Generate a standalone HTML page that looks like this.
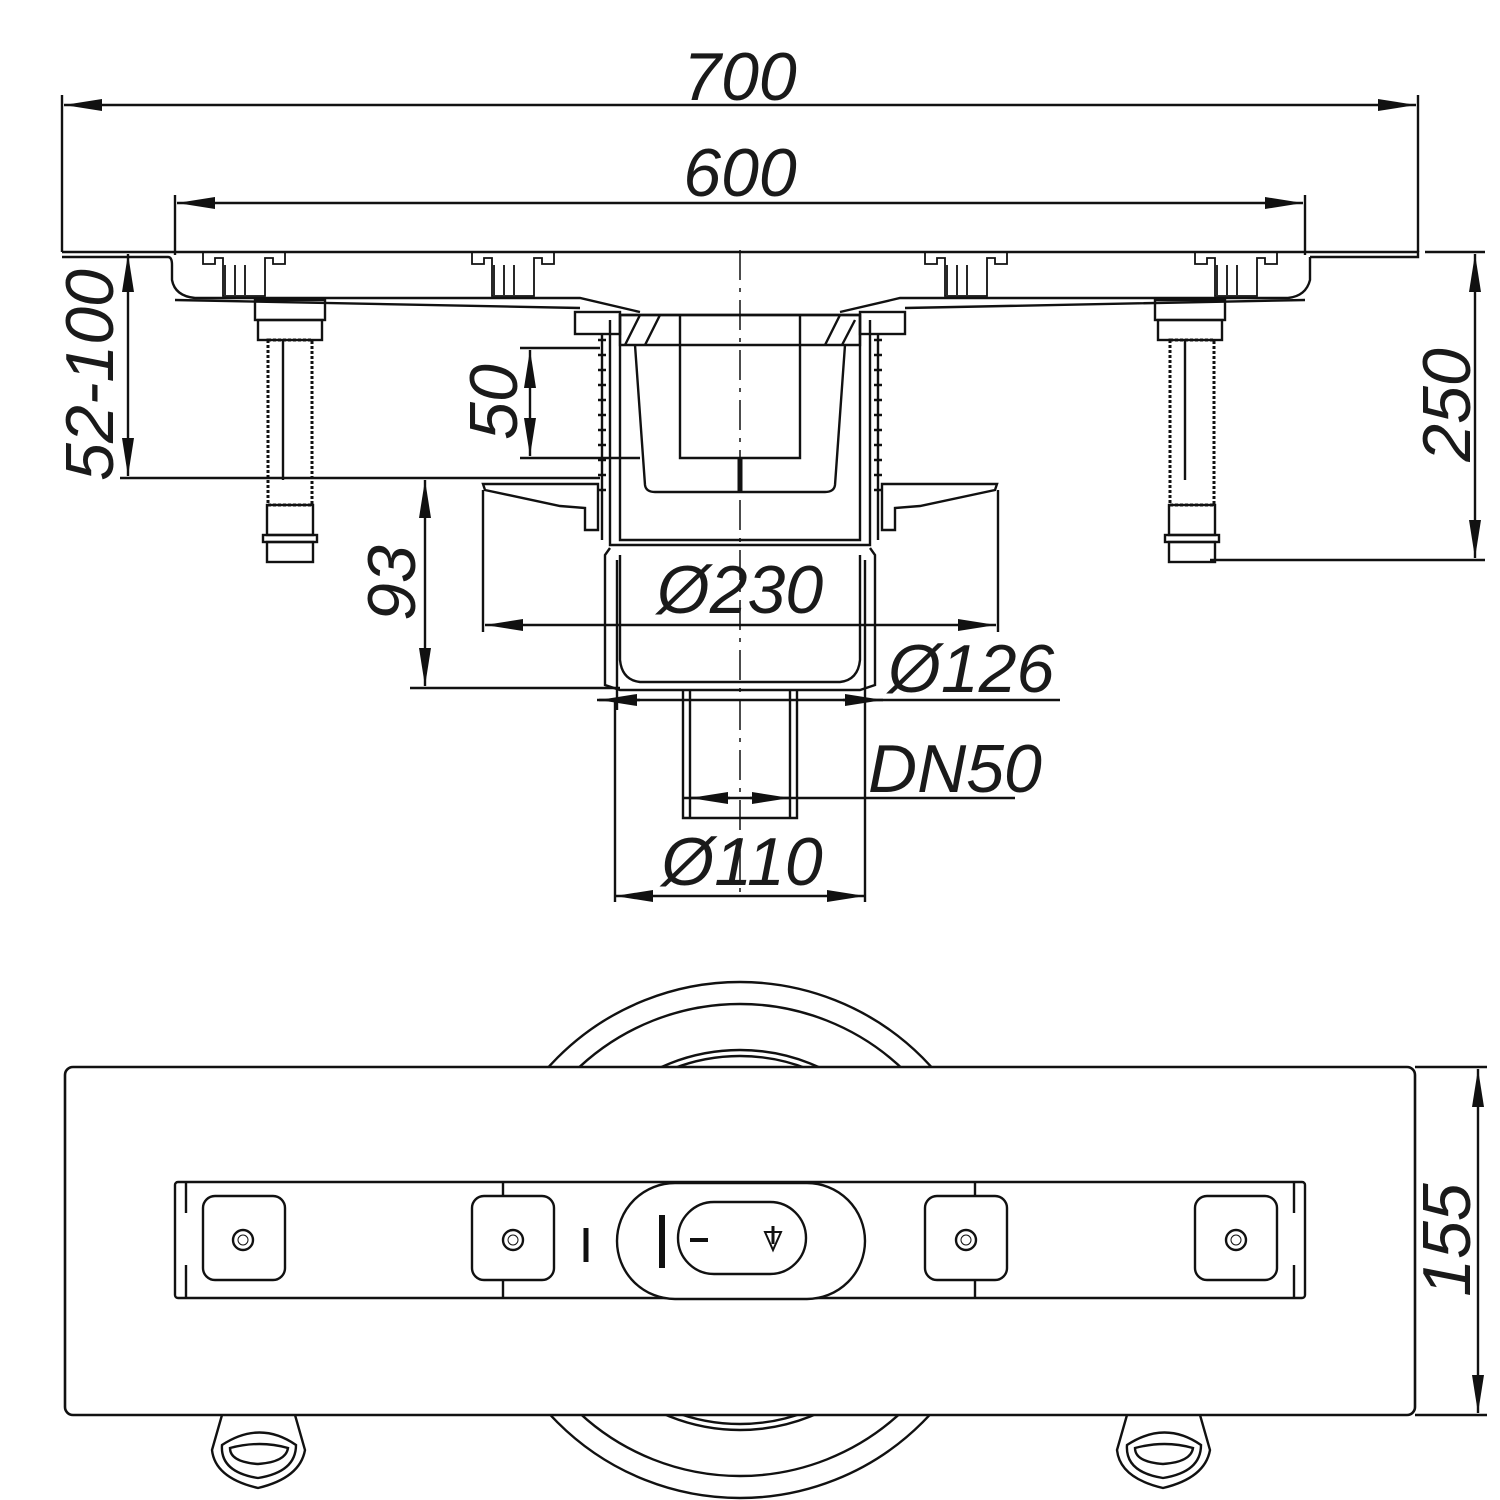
<!DOCTYPE html>
<html><head><meta charset="utf-8"><style>
html,body{margin:0;padding:0;background:#fff}
svg{display:block}
text{font-family:"Liberation Sans",sans-serif;font-style:italic;fill:#1a1a1a}
</style></head><body>
<svg width="1500" height="1500" viewBox="0 0 1500 1500" xmlns="http://www.w3.org/2000/svg">
<defs>
<marker id="a" markerUnits="userSpaceOnUse" markerWidth="40" markerHeight="14" refX="38" refY="7" orient="auto-start-reverse"><path d="M0,1 L38,7 L0,13 Z" fill="#111"/></marker>
</defs>
<g stroke="#111" stroke-width="2.4" fill="none">
<line x1="62" y1="95" x2="62" y2="252"/><line x1="1418" y1="95" x2="1418" y2="252"/>
<line x1="64" y1="105" x2="1416" y2="105" marker-start="url(#a)" marker-end="url(#a)"/>
<line x1="175" y1="195" x2="175" y2="255"/><line x1="1305" y1="195" x2="1305" y2="255"/>
<line x1="177" y1="203" x2="1303" y2="203" marker-start="url(#a)" marker-end="url(#a)"/>
<path d="M62,252 H1418 V257 H1310"/>
<path d="M62,257 H168 Q172,257 172,265 V280 Q175,296 195,298 H580 L640,312"/>
<path d="M1310,257 V280 Q1306,296 1288,298 H900 L840,312"/>
<path d="M175,300 L580,308 M905,308 L1305,300"/>
<g stroke-width="1.8">
<path d="M203,252 v12 h12 v-6 h8 v38 h42 v-38 h8 v6 h12 v-12"/>
<path d="M472,252 v12 h12 v-6 h8 v38 h42 v-38 h8 v6 h12 v-12"/>
<path d="M925,252 v12 h12 v-6 h8 v38 h42 v-38 h8 v6 h12 v-12"/>
<path d="M1195,252 v12 h12 v-6 h8 v38 h42 v-38 h8 v6 h12 v-12"/>
<path d="M225,265v30M235,265v30M245,265v30M494,265v30M504,265v30M514,265v30M947,265v30M957,265v30M967,265v30M1217,265v30M1227,265v30M1237,265v30"/>
</g>
<g>
<rect x="255" y="300" width="70" height="20"/><rect x="258" y="320" width="64" height="20"/>
<rect x="268" y="340" width="44" height="165" stroke-dasharray="3 2" stroke-width="3"/>
<line x1="283" y1="340" x2="283" y2="480"/>
<rect x="267" y="505" width="46" height="30"/><rect x="263" y="535" width="54" height="7"/><rect x="267" y="542" width="46" height="20"/>
<rect x="1155" y="300" width="70" height="20"/><rect x="1158" y="320" width="64" height="20"/>
<rect x="1170" y="340" width="44" height="165" stroke-dasharray="3 2" stroke-width="3"/>
<line x1="1185" y1="340" x2="1185" y2="480"/>
<rect x="1169" y="505" width="46" height="30"/><rect x="1165" y="535" width="54" height="7"/><rect x="1169" y="542" width="46" height="20"/>
</g>
<line x1="128" y1="254" x2="128" y2="476" marker-start="url(#a)" marker-end="url(#a)"/>
<line x1="120" y1="478" x2="600" y2="478"/>
<line x1="1425" y1="252" x2="1485" y2="252"/>
<line x1="1210" y1="560" x2="1485" y2="560"/>
<line x1="1475" y1="254" x2="1475" y2="558" marker-start="url(#a)" marker-end="url(#a)"/>
<line x1="740" y1="250" x2="740" y2="900" stroke-width="1.5" stroke-dasharray="30 8 4 8"/>
<rect x="575" y="312" width="45" height="22"/><rect x="860" y="312" width="45" height="22"/>
<path d="M610,320 V545 H870 V320"/>
<path d="M620,315 V540 H860 V315 Z"/>
<path d="M620,315 H860 V345 H620 Z"/>
<path d="M640,315 L625,345 M660,315 L645,345 M840,315 L825,345 M855,320 L842,345"/>
<path d="M680,315 V458 H800 V315"/>
<path d="M635,345 L645,485 Q646,492 655,492 H825 Q834,492 835,485 L845,345"/>
<path d="M602,335 V540 M878,335 V540"/>
<path d="M598,340h8M598,355h8M598,370h8M598,385h8M598,400h8M598,415h8M598,430h8M598,445h8M598,460h8M598,475h8M598,490h8M874,340h8M874,355h8M874,370h8M874,385h8M874,400h8M874,415h8M874,430h8M874,445h8M874,460h8M874,475h8M874,490h8"/>
<line x1="740" y1="458" x2="740" y2="492" stroke-width="5"/>
<path d="M483,484 H598 V530 H585 V508 L560,506 L485,490 Z"/>
<path d="M997,484 H882 V530 H895 V508 L920,506 L995,490 Z"/>
<path d="M610,548 L605,555 V685 L620,690 H860 L875,685 V555 L870,548"/>
<path d="M620,555 V660 Q622,680 640,682 H840 Q858,680 860,660 V555"/>
<path d="M683,690 V818 H797 V690 M690,690 V818 M790,690 V818"/>
<line x1="520" y1="348" x2="600" y2="348"/><line x1="520" y1="458" x2="640" y2="458"/>
<line x1="530" y1="350" x2="530" y2="456" marker-start="url(#a)" marker-end="url(#a)"/>
<line x1="410" y1="688" x2="620" y2="688"/>
<line x1="425" y1="480" x2="425" y2="686" marker-start="url(#a)" marker-end="url(#a)"/>
<line x1="483" y1="490" x2="483" y2="632"/><line x1="998" y1="490" x2="998" y2="632"/>
<line x1="485" y1="625" x2="996" y2="625" marker-start="url(#a)" marker-end="url(#a)"/>
<line x1="617" y1="560" x2="617" y2="710"/><line x1="865" y1="560" x2="865" y2="710"/>
<line x1="597" y1="700" x2="1060" y2="700"/>
<line x1="640" y1="700" x2="599" y2="700" marker-end="url(#a)"/>
<line x1="843" y1="700" x2="883" y2="700" marker-end="url(#a)"/>
<line x1="683" y1="798" x2="1015" y2="798"/>
<line x1="730" y1="798" x2="690" y2="798" marker-end="url(#a)"/>
<line x1="750" y1="798" x2="790" y2="798" marker-end="url(#a)"/>
<line x1="615" y1="700" x2="615" y2="902"/><line x1="865" y1="710" x2="865" y2="902"/>
<line x1="615" y1="896" x2="865" y2="896" marker-start="url(#a)" marker-end="url(#a)"/>

<circle cx="740" cy="1240" r="258"/>
<circle cx="740" cy="1240" r="236"/>
<circle cx="740" cy="1240" r="190"/>
<circle cx="740" cy="1240" r="184"/>
<path d="M222,1415 L212,1450 Q215,1478 258,1488 Q300,1478 305,1450 L295,1415" />
<path d="M222,1445 Q260,1420 296,1445 Q296,1472 258,1478 Q220,1472 222,1445 Z"/>
<path d="M230,1448 Q260,1440 288,1448 Q286,1462 258,1464 Q230,1462 230,1448 Z"/>
<path d="M1127,1415 L1117,1450 Q1120,1478 1163,1488 Q1205,1478 1210,1450 L1200,1415" />
<path d="M1127,1445 Q1165,1420 1201,1445 Q1201,1472 1163,1478 Q1125,1472 1127,1445 Z"/>
<path d="M1135,1448 Q1165,1440 1193,1448 Q1191,1462 1163,1464 Q1135,1462 1135,1448 Z"/>
<rect x="65" y="1067" width="1350" height="348" rx="8" fill="#fff" stroke-width="2.6"/>
<rect x="175" y="1182" width="1130" height="116" rx="3"/>
<path d="M186,1182 V1213 M186,1265 V1298 M503,1182 V1200 M503,1280 V1298 M975,1182 V1200 M975,1280 V1298 M1294,1182 V1213 M1294,1265 V1298"/>
<rect x="203" y="1196" width="82" height="84" rx="12" fill="#fff"/>
<rect x="472" y="1196" width="82" height="84" rx="12" fill="#fff"/>
<rect x="925" y="1196" width="82" height="84" rx="12" fill="#fff"/>
<rect x="1195" y="1196" width="82" height="84" rx="12" fill="#fff"/>
<circle cx="243" cy="1240" r="10"/><circle cx="243" cy="1240" r="5" stroke-width="1"/>
<circle cx="513" cy="1240" r="10"/><circle cx="513" cy="1240" r="5" stroke-width="1"/>
<circle cx="966" cy="1240" r="10"/><circle cx="966" cy="1240" r="5" stroke-width="1"/>
<circle cx="1236" cy="1240" r="10"/><circle cx="1236" cy="1240" r="5" stroke-width="1"/>
<rect x="617" y="1183" width="248" height="116" rx="58" fill="#fff"/>
<rect x="678" y="1202" width="128" height="72" rx="36"/>
<line x1="586" y1="1228" x2="586" y2="1262" stroke-width="5"/>
<line x1="662" y1="1215" x2="662" y2="1268" stroke-width="6"/>
<path d="M765,1232 L781,1232 L773,1250 Z" stroke-width="2"/>
<line x1="773" y1="1226" x2="773" y2="1244" stroke-width="3"/>
<line x1="690" y1="1240" x2="708" y2="1240" stroke-width="4"/>
<line x1="1415" y1="1067" x2="1487" y2="1067"/><line x1="1415" y1="1415" x2="1487" y2="1415"/>
<line x1="1478" y1="1069" x2="1478" y2="1413" marker-start="url(#a)" marker-end="url(#a)"/>
</g>
<g font-size="68">
<text x="740" y="100" text-anchor="middle">700</text>
<text x="740" y="196" text-anchor="middle">600</text>
<text x="740" y="613" text-anchor="middle">Ø230</text>
<text x="888" y="692">Ø126</text>
<text x="868" y="792">DN50</text>
<text x="742" y="885" text-anchor="middle">Ø110</text>
<text transform="translate(113,375) rotate(-90)" text-anchor="middle">52-100</text>
<text transform="translate(517,402) rotate(-90)" text-anchor="middle">50</text>
<text transform="translate(415,583) rotate(-90)" text-anchor="middle">93</text>
<text transform="translate(1470,405) rotate(-90)" text-anchor="middle">250</text>
<text transform="translate(1470,1240) rotate(-90)" text-anchor="middle">155</text>
</g>
</svg>
</body></html>
